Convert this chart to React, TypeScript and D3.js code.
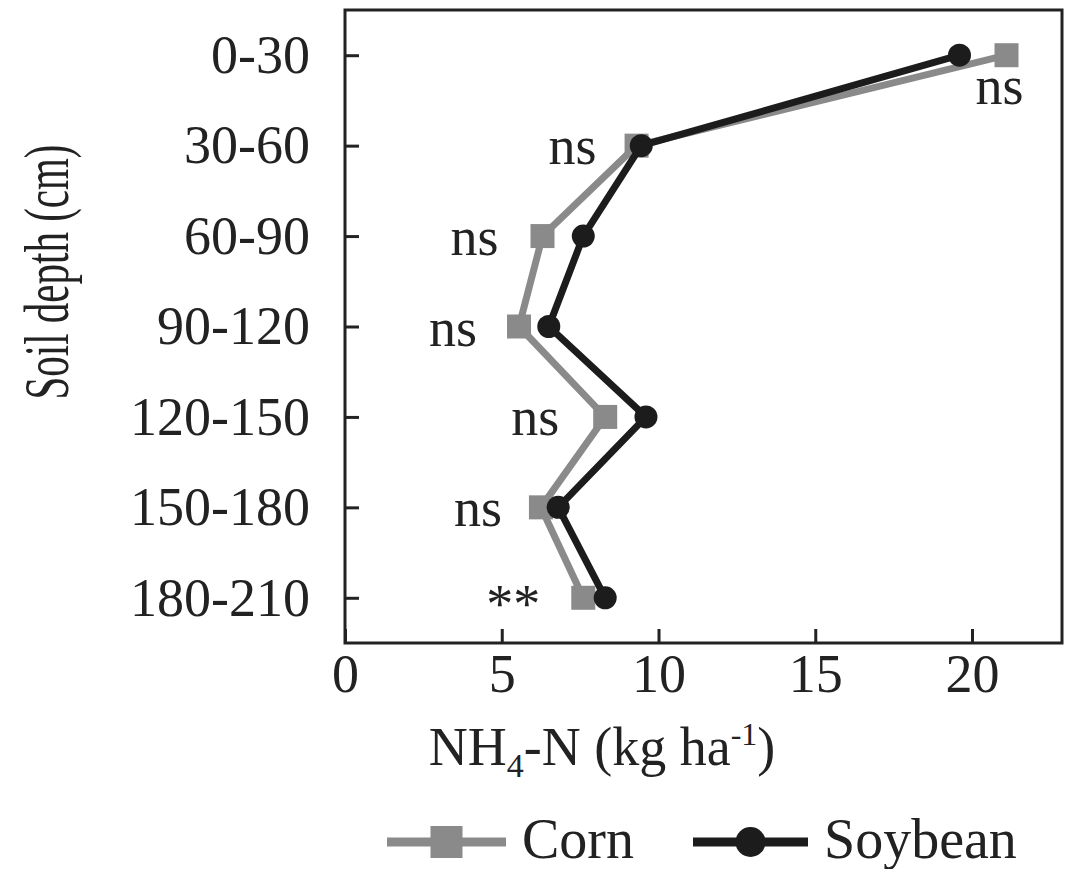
import React, { useEffect, useRef } from 'react';
import * as d3 from 'd3';

const depths = ['0-30', '30-60', '60-90', '90-120', '120-150', '150-180', '180-210'];
const corn = [21.1, 9.3, 6.3, 5.55, 8.3, 6.25, 7.6];
const soybean = [19.6, 9.45, 7.6, 6.5, 9.6, 6.8, 8.3];
const signif = ['ns', 'ns', 'ns', 'ns', 'ns', 'ns', '**'];
const xTicks = [0, 5, 10, 15, 20];

// label nudges in px from the corn point of the same depth
const labelOffsets = [
  { dx: -7, dy: 49 },
  { dx: -64, dy: 18 },
  { dx: -68, dy: 19 },
  { dx: -66, dy: 19 },
  { dx: -70, dy: 18 },
  { dx: -63, dy: 19 },
  { dx: -70, dy: 24 },
];

const FONT = '"Liberation Serif", "DejaVu Serif", serif';
const CORN_COLOR = '#8a8a8a';
const SOY_COLOR = '#1c1c1c';
const TEXT = '#222';

const App = () => {
  const ref = useRef<SVGSVGElement>(null);

  useEffect(() => {
    const svgEl = d3.select(ref.current);
    svgEl.selectAll('*').remove();

    const margin = { top: 10, left: 345 };
    const plotW = 717;
    const plotH = 633;

    const svg = svgEl.append('g')
      .attr('transform', `translate(${margin.left},${margin.top})`);

    const x = d3.scaleLinear().domain([0, 22.87]).range([0, plotW]);
    const y = d3.scalePoint().domain(depths).range([0, plotH]).padding(0.5);

    svg.append('rect')
      .attr('width', plotW)
      .attr('height', plotH)
      .attr('fill', 'none')
      .attr('stroke', TEXT)
      .attr('stroke-width', 3);

    const yAxis = svg.append('g')
      .call(d3.axisLeft(y).tickSizeInner(-14).tickSizeOuter(0).tickPadding(35));
    yAxis.select('.domain').remove();
    yAxis.selectAll('line').attr('stroke', TEXT).attr('stroke-width', 3);
    yAxis.selectAll('text')
      .attr('font-family', FONT)
      .attr('font-size', 54)
      .attr('fill', TEXT);

    const xAxis = svg.append('g')
      .attr('transform', `translate(0,${plotH})`)
      .call(d3.axisBottom(x).tickValues(xTicks).tickSizeInner(-14).tickSizeOuter(0).tickPadding(11));
    xAxis.select('.domain').remove();
    xAxis.selectAll('line').attr('stroke', TEXT).attr('stroke-width', 3);
    xAxis.selectAll('text')
      .attr('font-family', FONT)
      .attr('font-size', 54)
      .attr('fill', TEXT);

    const line = d3.line<number>()
      .x(d => x(d))
      .y((d, i) => y(depths[i]) as number);

    svg.append('path')
      .datum(corn)
      .attr('fill', 'none')
      .attr('stroke', CORN_COLOR)
      .attr('stroke-width', 7)
      .attr('stroke-linejoin', 'round')
      .attr('d', line);
    svg.append('g')
      .selectAll('rect')
      .data(corn)
      .enter()
      .append('rect')
      .attr('x', d => x(d) - 12)
      .attr('y', (d, i) => (y(depths[i]) as number) - 12)
      .attr('width', 24)
      .attr('height', 24)
      .attr('fill', CORN_COLOR);

    svg.append('path')
      .datum(soybean)
      .attr('fill', 'none')
      .attr('stroke', SOY_COLOR)
      .attr('stroke-width', 7)
      .attr('stroke-linejoin', 'round')
      .attr('d', line);
    svg.append('g')
      .selectAll('circle')
      .data(soybean)
      .enter()
      .append('circle')
      .attr('cx', d => x(d))
      .attr('cy', (d, i) => y(depths[i]) as number)
      .attr('r', 11.5)
      .attr('fill', SOY_COLOR);

    svg.append('g')
      .selectAll('text')
      .data(signif)
      .enter()
      .append('text')
      .attr('x', (d, i) => x(corn[i]) + labelOffsets[i].dx)
      .attr('y', (d, i) => (y(depths[i]) as number) + labelOffsets[i].dy)
      .attr('text-anchor', 'middle')
      .attr('font-family', FONT)
      .attr('font-size', 54)
      .attr('fill', TEXT)
      .text(d => d);

    // y title, wide glyphs like the source figure
    svgEl.append('text')
      .attr('transform', 'translate(68,272) scale(1.55,1) rotate(-90)')
      .attr('text-anchor', 'middle')
      .attr('font-family', FONT)
      .attr('font-size', 41)
      .attr('fill', TEXT)
      .text('Soil depth (cm)');

    const xt = svgEl.append('text')
      .attr('x', 602)
      .attr('y', 765)
      .attr('text-anchor', 'middle')
      .attr('font-family', FONT)
      .attr('font-size', 54)
      .attr('fill', TEXT);
    xt.append('tspan').text('NH');
    xt.append('tspan').attr('font-size', 34).attr('dy', 12).text('4');
    xt.append('tspan').attr('dy', -12).text('-N (kg ha');
    xt.append('tspan').attr('font-size', 32).attr('dy', -20).text('-1');
    xt.append('tspan').attr('dy', 20).text(')');

    const legend = svgEl.append('g').attr('transform', 'translate(0,842)');
    const items = [
      { name: 'Corn', color: CORN_COLOR, shape: 'square', x0: 387, len: 119 },
      { name: 'Soybean', color: SOY_COLOR, shape: 'circle', x0: 693, len: 115 },
    ];
    items.forEach(it => {
      legend.append('line')
        .attr('x1', it.x0)
        .attr('x2', it.x0 + it.len)
        .attr('stroke', it.color)
        .attr('stroke-width', 9);
      if (it.shape === 'square') {
        legend.append('rect')
          .attr('x', it.x0 + it.len / 2 - 16)
          .attr('y', -16)
          .attr('width', 32)
          .attr('height', 32)
          .attr('fill', it.color);
      } else {
        legend.append('circle')
          .attr('cx', it.x0 + it.len / 2)
          .attr('r', 15)
          .attr('fill', it.color);
      }
      legend.append('text')
        .attr('x', it.x0 + it.len + 16)
        .attr('y', 16)
        .attr('font-family', FONT)
        .attr('font-size', 56)
        .attr('fill', TEXT)
        .text(it.name);
    });
  }, []);

  return (
    <svg ref={ref} width={1066} height={869} style={{ position: 'absolute', left: 0, top: 0, background: '#fff' }}></svg>
  );
};

export default App;
